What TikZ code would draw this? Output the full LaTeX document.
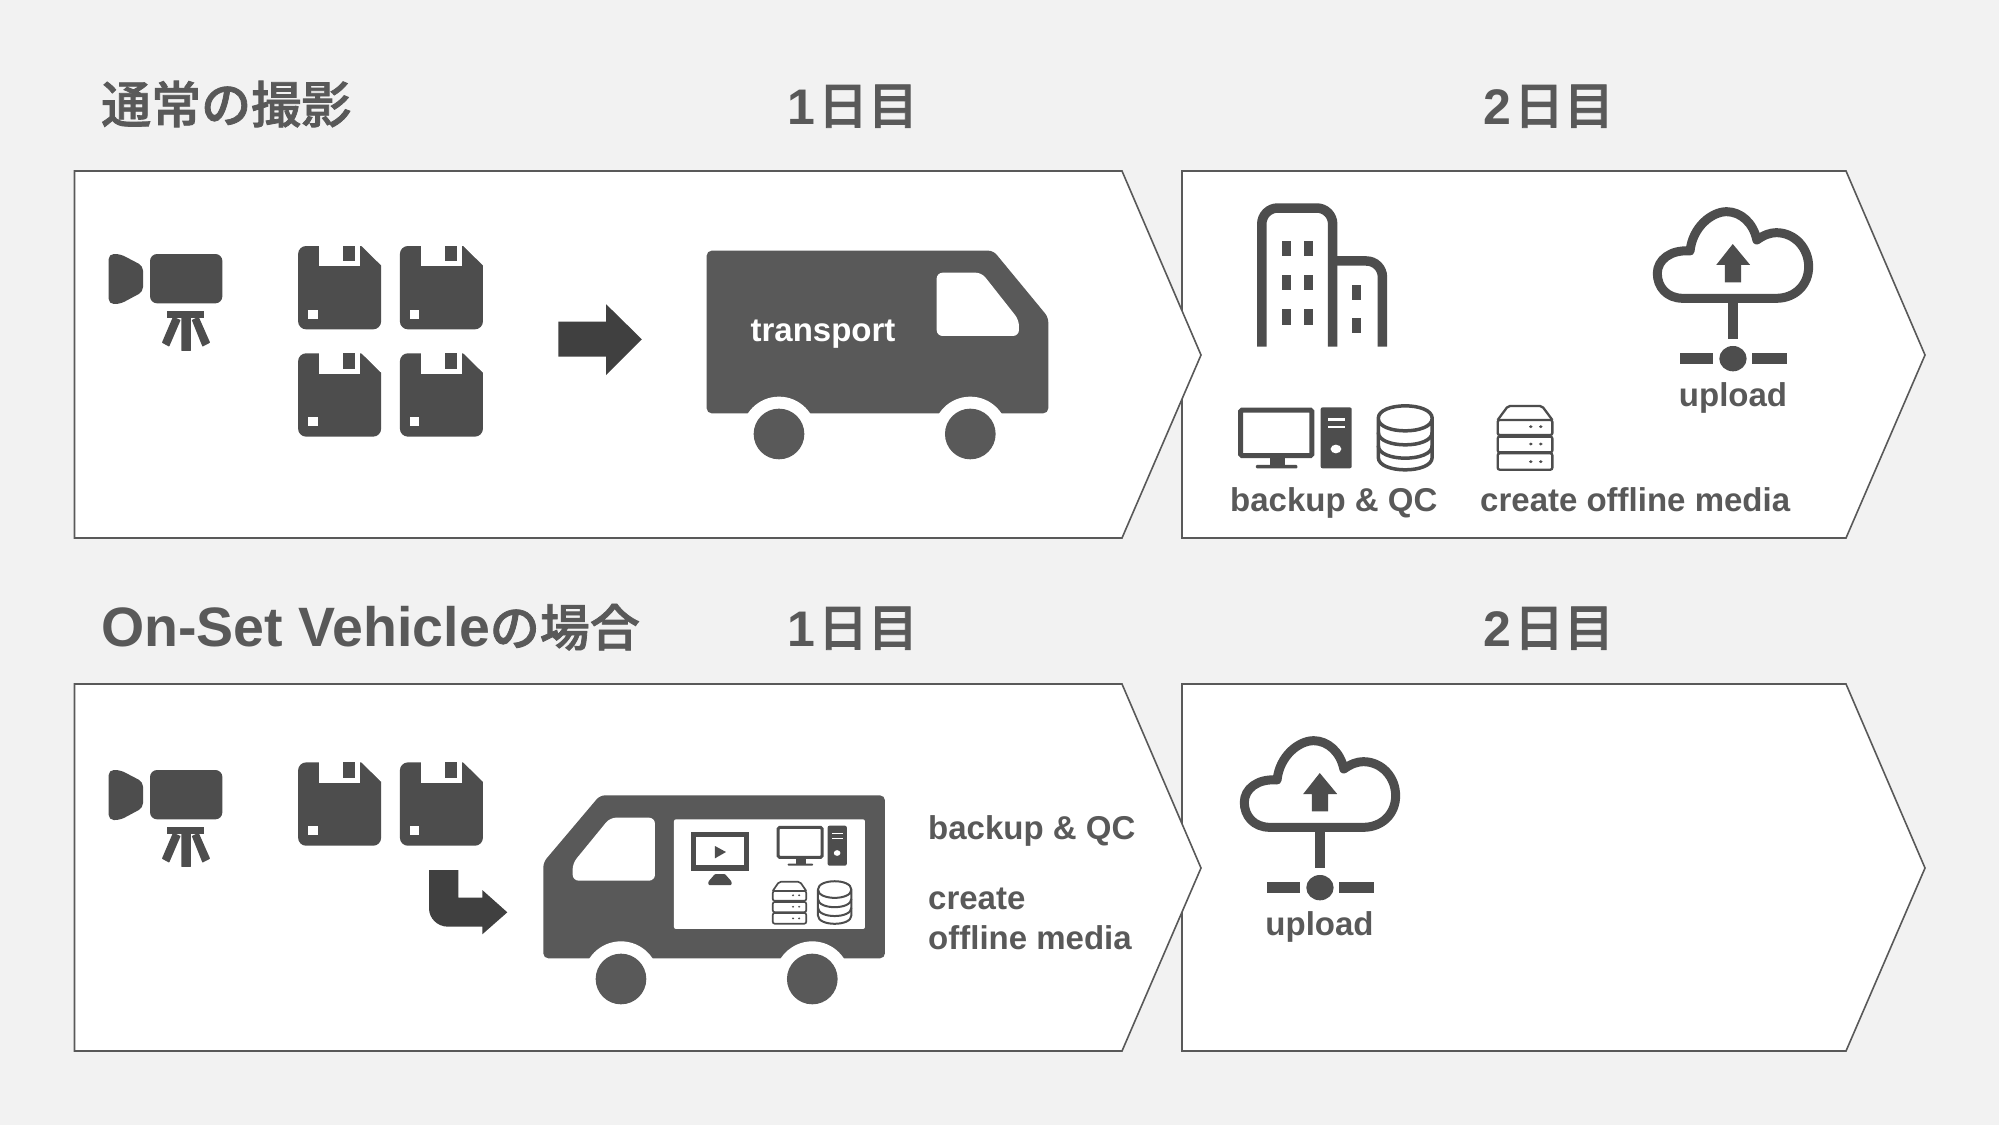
\documentclass[tikz,border=0pt]{standalone}
\usepackage{fontspec}
\setmainfont{Liberation Sans}
\newfontfamily\cjkf[BoldFont={Noto Sans CJK JP Medium},BoldFeatures={FakeBold=1.6}]{Noto Sans CJK JP Medium}
\definecolor{bgc}{HTML}{F2F2F2}
\definecolor{txt}{HTML}{595959}
\definecolor{ico}{HTML}{4D4D4D}
\definecolor{van}{HTML}{595959}
\definecolor{arr}{HTML}{404040}
\newcommand{\fs}[1]{\fontsize{#1}{#1}\selectfont}
\tikzset{
  x=1pt,y=-1pt,
  panel/.style={draw=txt,line width=1.6pt,fill=white,line join=miter},
  heading/.style={anchor=base west,inner sep=0,text=txt,font=\bfseries\fs{50}},
  day/.style={anchor=base west,inner sep=0,text=txt,font=\bfseries\fs{50}},
  label/.style={anchor=base west,inner sep=0,text=txt,font=\bfseries\fs{33}},
  labelc/.style={anchor=base,inner sep=0,text=txt,font=\bfseries\fs{33}},
  zoomA/.style={xscale=.3827,yscale=.3333},
  zoomB/.style={xscale=.4146,yscale=.3333},
  pics/floppy/.style={code={
    \fill[ico,rounded corners=8] (0,0) rectangle (217,250);
    \fill[white] (55,-3) rectangle (162,61);
    \fill[white] (163,-3) -- (220,-3) -- (220,58) -- (217,58) -- cycle;
    \fill[ico] (118,0) rectangle (148,46);
    \fill[white] (26,191) rectangle (51,218);
  }},
  pics/camera/.style={code={
    \fill[ico,rounded corners=7] (183,132) rectangle (372,280);
    \fill[ico,rounded corners=5] (165,168) -- (105,132) -- (75,132) -- (75,282) -- (105,282) -- (165,245) -- cycle;
    \fill[ico] (228,303) rectangle (325,325);
    \fill[ico,rounded corners=.5] (243,320) -- (214,398) -- (233,410) -- (263,330) -- cycle;
    \fill[ico,rounded corners=.5] (265,320) -- (265,423) -- (290,423) -- (290,320) -- cycle;
    \fill[ico,rounded corners=.5] (292,330) -- (320,410) -- (340,398) -- (310,320) -- cycle;
  }},
  pics/cloudup/.style={code={
    \draw[ico,line width=9pt,line join=round] (1165,325) .. controls (1125,325) and (1103,290) .. (1103,250) .. controls (1103,210) and (1135,178) .. (1182,183) .. controls (1188,110) and (1235,65) .. (1270,65) .. controls (1305,65) and (1335,100) .. (1343,150) .. controls (1360,135) and (1375,128) .. (1390,128) .. controls (1435,128) and (1468,175) .. (1468,230) .. controls (1468,285) and (1435,325) .. (1390,325) -- cycle;
    \fill[ico] (1285,162) -- (1327,225) -- (1305,225) -- (1305,277) -- (1266,277) -- (1266,225) -- (1245,225) -- cycle;
    \fill[ico] (1273,335) rectangle (1298,447);
    \fill[ico] (1157,490) rectangle (1238,522);
    \fill[ico] (1332,490) rectangle (1415,522);
    \fill[ico] (1285.5,506) circle [x radius=33,y radius=38];
  }},
  pics/comp/.style={code={
    \draw[ico,line width=#1pt,rounded corners=1.5] (8,8) rectangle (180,145);
    \fill[ico] (78,150) rectangle (115,175);
    \fill[ico,rounded corners=1] (45,173) rectangle (145,183);
    \fill[ico,rounded corners=2] (201,0) rectangle (276,183);
    \fill[white] (218,33) rectangle (260,40);
    \fill[white] (218,56) rectangle (260,63);
    \fill[white] (238,125) circle (13);
  }},
  pics/dbase/.style={code={
    \draw[ico,line width=#1pt,line join=round] (5,43) .. controls (5,-7) and (135,-7) .. (135,43) .. controls (135,93) and (5,93) .. (5,43) -- (5,160) .. controls (5,210) and (135,210) .. (135,160) -- (135,43);
    \draw[ico,line width=#1pt] (5,85) .. controls (5,135) and (135,135) .. (135,85);
    \draw[ico,line width=#1pt] (5,125) .. controls (5,175) and (135,175) .. (135,125);
  }},
  pics/srv/.style={code={
    \draw[ico,line width=#1pt,rounded corners=2] (3,45) -- (28,3) -- (110,3) -- (135,45);
    \draw[ico,line width=#1pt,rounded corners=2] (3,45) rectangle (135,90);
    \draw[ico,line width=#1pt,rounded corners=2] (3,95) rectangle (135,142);
    \draw[ico,line width=#1pt,rounded corners=2] (3,145) rectangle (135,194);
    \foreach \yy in {65,117,170}{
      \fill[ico] (83,\yy) circle (4.5);
      \fill[ico] (107,\yy) circle (4.5);
    }
  }},
}
\begin{document}
\begin{tikzpicture}
\useasboundingbox (0,0) rectangle (1999,1125);
\fill[bgc] (0,0) rectangle (1999,1125);
% panels
\draw[panel] (1182,171) -- (1846,171) -- (1925,355) -- (1846,538) -- (1182,538) -- cycle;
\draw[panel] (74.5,171) -- (1122,171) -- (1201,355) -- (1122,538) -- (74.5,538) -- cycle;
\draw[panel] (1182,684) -- (1846,684) -- (1925,868) -- (1846,1051) -- (1182,1051) -- cycle;
\draw[panel] (74.5,684) -- (1122,684) -- (1201,868) -- (1122,1051) -- (74.5,1051) -- cycle;
% headings
\node[heading] (t1) at (101,123) {\cjkf 通常の撮影};
\node[day] (d1) at (787,124) {1\kern3pt{\cjkf 日目}};
\node[day] (d2) at (1483,124) {2\kern3pt{\cjkf 日目}};
\node[heading] (t2) at (101,646) {\fs{55.5}On-Set Vehicle{\cjkf\fs{50}の場合}};
\node[day] (d3) at (787,646) {1\kern3pt{\cjkf 日目}};
\node[day] (d4) at (1483,646) {2\kern3pt{\cjkf 日目}};
% top row: camera, media
\pic[zoomA] at (80,210) {camera};
\pic[zoomA] at (298.1,246) {floppy};
\pic[zoomA] at (399.9,246) {floppy};
\pic[zoomA] at (298.1,353.3) {floppy};
\pic[zoomA] at (399.9,353.3) {floppy};
\fill[arr] (558.4,321.7) -- (606.2,321.7) -- (606.2,304.3) -- (641.8,339.3) -- (606.2,375) -- (606.2,356.7) -- (558.4,356.7) -- cycle;
% transport van
\begin{scope}[shift={(680,230)},scale=.3333]
  \fill[van,rounded corners=5] (80,62) -- (940,62) -- (1105,262) -- (1105,550) -- (80,550) -- cycle;
  \fill[white,rounded corners=6] (770,128) -- (905,128) -- (1017,270) -- (1017,318) -- (770,318) -- cycle;
  \foreach \wx in {297,871}{
    \fill[white] (\wx,612) circle (112);
    \fill[van] (\wx,612) circle (76);
  }
\end{scope}
\node[anchor=base,inner sep=0,text=white,font=\bfseries\fs{33}] (tr) at (823,341.7) {transport};
% building
\begin{scope}[shift={(1200,190)},zoomB]
  \draw[ico,line width=9.5pt,rounded corners=16] (149,470) -- (149,54) -- (320,54) -- (320,470);
  \draw[ico,line width=9.5pt,rounded corners=16] (320,213) -- (440,213) -- (440,470);
  \foreach \wy/\wh in {152/198,256/300,358/404}{
    \fill[ico] (197,\wy) rectangle (219,\wh);
    \fill[ico] (250,\wy) rectangle (272,\wh);
  }
  \fill[ico] (366,285) rectangle (388,330);
  \fill[ico] (366,383) rectangle (388,428);
\end{scope}
\pic[zoomB] at (1200,190) {cloudup};
\node[labelc] (u1) at (1733,406.7) {upload};
\pic[zoomB] at (1237.3,407.33) {comp=5};
\pic[zoomB] at (1376.2,404) {dbase=3.5};
\pic[zoomB] at (1496.4,405) {srv=2.3};
\node[label] (b1) at (1230,511) {backup \& QC};
\node[label] (c1) at (1480,511) {create offline media};
% bottom row
\pic[zoomA] at (80,726) {camera};
\pic[zoomA] at (298.1,762.4) {floppy};
\pic[zoomA] at (399.9,762.4) {floppy};
\fill[arr] (429,870) -- (458.3,870) -- (458.3,897.7) -- (482.3,897.7) -- (482.3,890) -- (507.3,912.3) -- (482.3,934.3) -- (482.3,926.7) -- (448.3,926.7) .. controls (437,926.7) and (429,918) .. (429,908.3) -- cycle;
% on-set van
\begin{scope}[shift={(400,780)},scale=.3333]
  \fill[van,rounded corners=5] (600,46) -- (1455,46) -- (1455,535) -- (430,535) -- (430,247) -- cycle;
  \fill[white,rounded corners=6] (630,113) -- (765,113) -- (765,302) -- (518,302) -- (518,250) -- cycle;
  \fill[white,rounded corners=2] (822,118) rectangle (1395,447);
  \foreach \wx in {663,1237}{
    \fill[white] (\wx,597) circle (113);
    \fill[van] (\wx,597) circle (76);
  }
  \draw[ico,line width=5.5pt] (880,163) rectangle (1040,264);
  \fill[ico] (945,198) -- (978,216) -- (945,235) -- cycle;
  \fill[ico,rounded corners=1] (945,282) -- (975,282) -- (995,305) -- (995,315) -- (925,315) -- (925,305) -- cycle;
\end{scope}
\pic[xscale=.2567,yscale=.2187] at (776,825.67) {comp=3};
\pic[xscale=.2536,yscale=.22] at (772,881) {srv=1.7};
\pic[xscale=.257,yscale=.2217] at (816.67,880) {dbase=2};
\node[label] (b2) at (928,839.5) {backup \& QC};
\node[label] (c2) at (928,909) {create};
\node[label] (c3) at (928,949) {offline media};
\pic[zoomB] at (787,719) {cloudup};
\node[labelc] (u2) at (1319.5,935.5) {upload};
\end{tikzpicture}
\end{document}
